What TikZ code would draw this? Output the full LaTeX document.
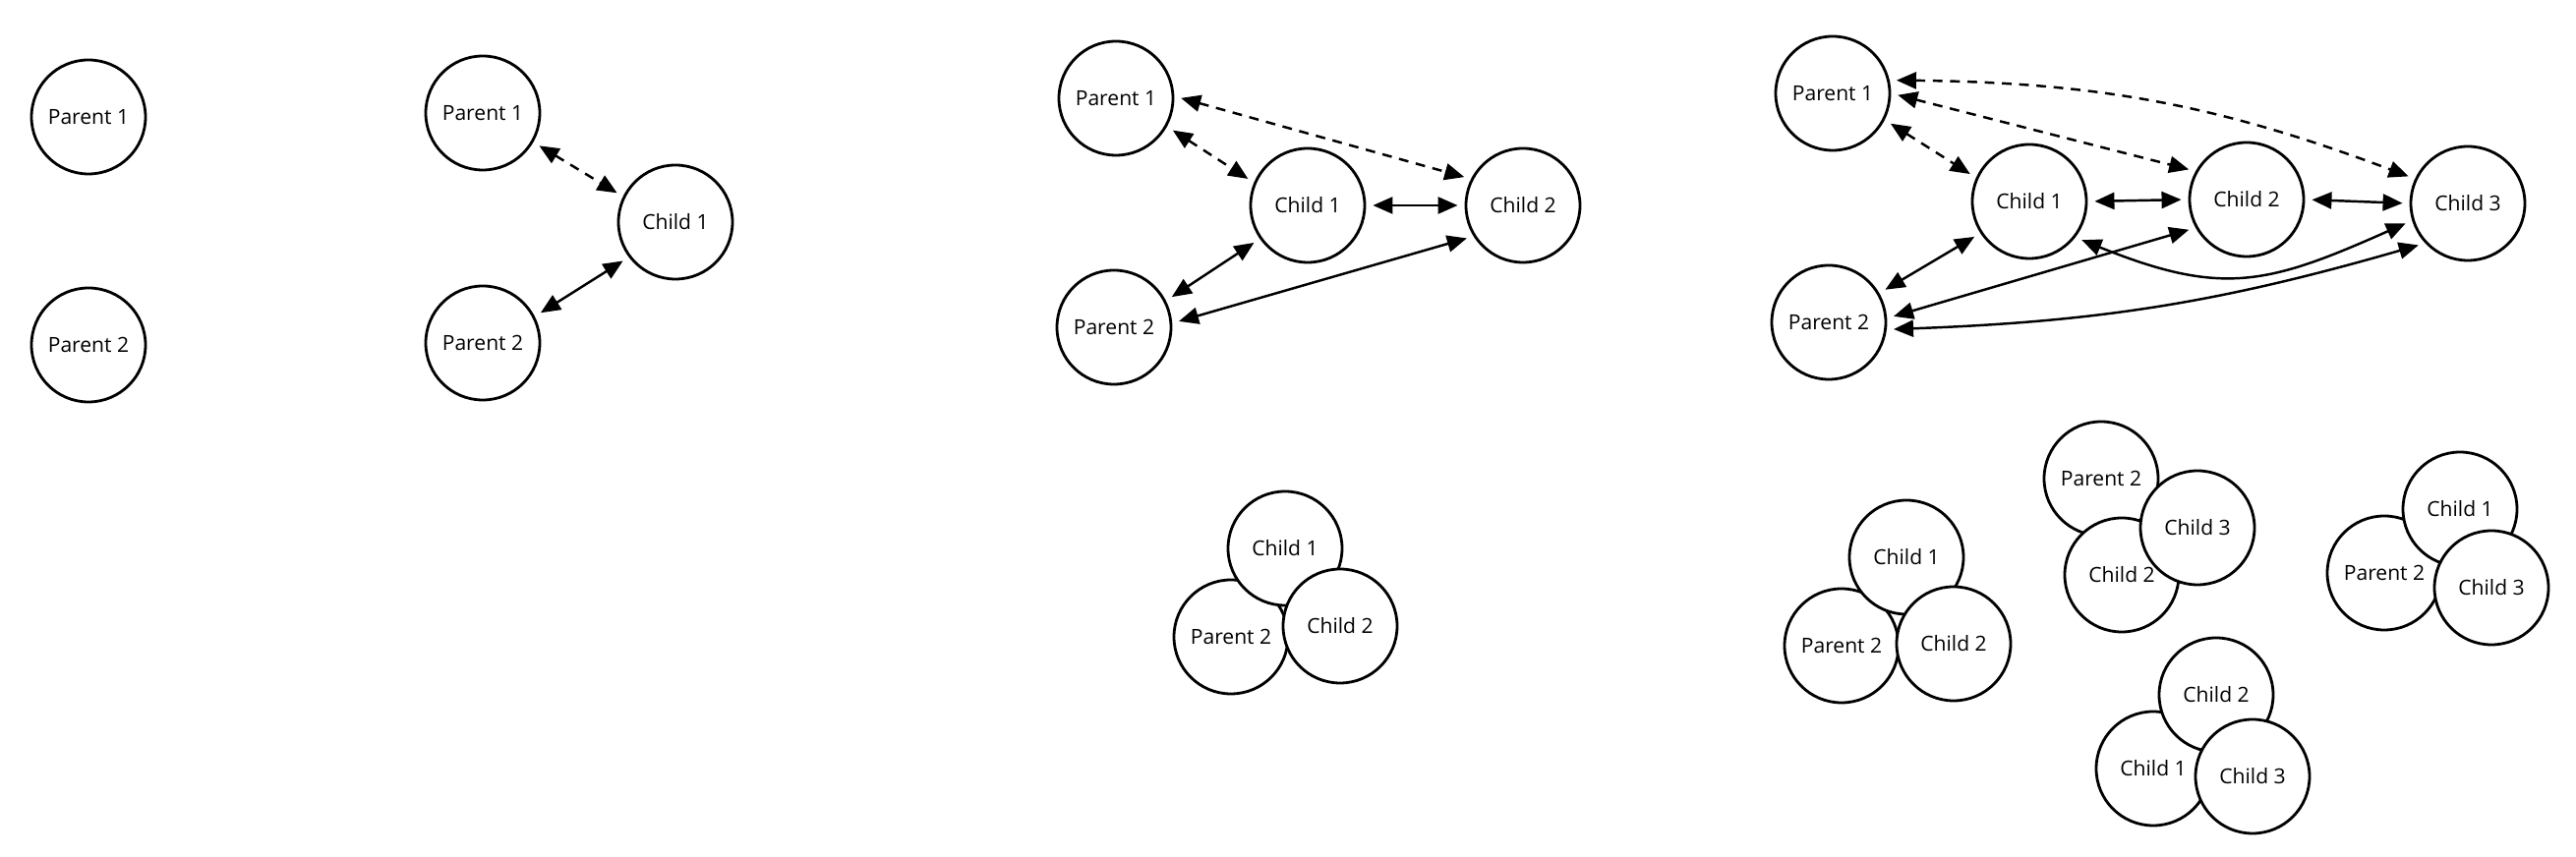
\documentclass[tikz,border=0pt]{standalone}
\usepackage{fontspec}
\setmainfont{Open Sans}
\usetikzlibrary{arrows.meta}
\newcommand{\CD}{1.16cm}
\newcommand{\TL}{2.0mm}
\newcommand{\TW}{1.7mm}

\begin{document}
\begin{tikzpicture}[
    pnode/.style={circle, draw=black, fill=white, line width=0.8pt, minimum size=\CD, inner sep=0pt, font=\fontsize{6}{7}\selectfont},
    link/.style={{Triangle[length=\TL,width=\TW]}-{Triangle[length=\TL,width=\TW]}, line width=0.7pt, shorten <=2pt, shorten >=2pt},
    hint/.style={link, dash pattern=on 2.8pt off 2.2pt},
  ]
  \useasboundingbox (0,0) rectangle (26.2,8.72);

  % --- two parents, nothing yet
  \node[pnode] (pa1) at (0.90,7.53) {Parent 1};
  \node[pnode] (pa2) at (0.90,5.21) {Parent 2};

  % --- one child
  \node[pnode] (pb1) at (4.91,7.57) {Parent 1};
  \node[pnode] (pb2) at (4.91,5.23) {Parent 2};
  \node[pnode] (cb1) at (6.87,6.46) {Child 1};
  \draw[hint] (pb1.-30) -- (cb1.154);
  \draw[link] (pb2.27) -- (cb1.217);

  % --- two children
  \node[pnode] (pc1) at (11.35,7.72) {Parent 1};
  \node[pnode] (pc2) at (11.33,5.39) {Parent 2};
  \node[pnode] (cc1) at (13.30,6.63) {Child 1};
  \node[pnode] (cc2) at (15.49,6.63) {Child 2};
  \draw[hint] (pc1.-29) -- (cc1.157);
  \draw[hint] (pc1.2) -- (cc2.153);
  \draw[link] (cc1.0) -- (cc2.180);
  \draw[link] (pc2.27) -- (cc1.215);
  \draw[link] (pc2.4) -- (cc2.212);

  % grouped
  \node[pnode] (gp2) at (12.52,2.24) {Parent 2};
  \node[pnode] (gc1) at (13.07,3.14) {Child 1};
  \node[pnode] (gc2) at (13.63,2.35) {Child 2};

  % --- three children
  \node[pnode] (pe1) at (18.64,7.77) {Parent 1};
  \node[pnode] (pe2) at (18.60,5.44) {Parent 2};
  \node[pnode] (ce1) at (20.64,6.67) {Child 1};
  \node[pnode] (ce2) at (22.85,6.69) {Child 2};
  \node[pnode] (ce3) at (25.10,6.65) {Child 3};
  \draw[hint] (pe1.-27) -- (ce1.156);
  \draw[hint] (pe1.0) -- (ce2.151);
  \draw[hint] (pe1.13) to[bend left=10] (ce3.155);
  \draw[link] (ce1.0) -- (ce2.180);
  \draw[link] (ce2.0) -- (ce3.180);
  \draw[link] (pe2.30) -- (ce1.213);
  \draw[link] (pe2.4) -- (ce2.209);
  \draw[link] (ce1.-38) to[out=-22,in=204,looseness=1.2] (ce3.197);
  \draw[link] (pe2.-7) to[bend right=7] (ce3.223);

  % groups of three
  \node[pnode] (ap2) at (18.73,2.15) {Parent 2};
  \node[pnode] (ac1) at (19.39,3.05) {Child 1};
  \node[pnode] (ac2) at (19.87,2.17) {Child 2};

  \node[pnode] (bp2) at (21.37,3.85) {Parent 2};
  \node[pnode] (bc2) at (21.58,2.87) {Child 2};
  \node[pnode] (bc3) at (22.35,3.35) {Child 3};

  \node[pnode] (xp2) at (24.25,2.89) {Parent 2};
  \node[pnode] (xc1) at (25.02,3.54) {Child 1};
  \node[pnode] (xc3) at (25.34,2.74) {Child 3};

  \node[pnode] (dc1) at (21.90,0.90) {Child 1};
  \node[pnode] (dc2) at (22.54,1.65) {Child 2};
  \node[pnode] (dc3) at (22.91,0.82) {Child 3};

\end{tikzpicture}
\end{document}
